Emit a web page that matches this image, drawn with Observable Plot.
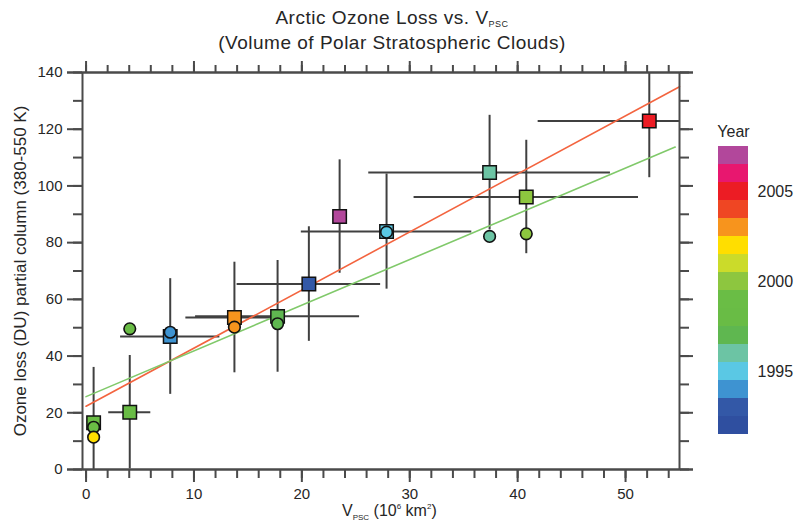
<!DOCTYPE html>
<html><head><meta charset="utf-8">
<script src="https://cdn.jsdelivr.net/npm/d3@7"></script>
<script src="https://cdn.jsdelivr.net/npm/@observablehq/plot@0.6"></script>
<style>
body{margin:0;background:#fff;font-family:"Liberation Sans",Arial,sans-serif;}
#wrap{position:relative;width:811px;height:531px;overflow:hidden;background:#fff;}
.t{position:absolute;white-space:nowrap;color:#262626;}
#main,#bar{position:absolute;}
#main{left:0;top:0;}
#bar{left:718px;top:110px;}
.sub{font-size:9px;position:relative;top:3px;}
.sup{font-size:9px;position:relative;top:-7px;}
</style></head><body>
<div id="wrap">
  <div id="main"></div>
  <div id="bar"></div>
  <div class="t" style="left:192px;top:7px;width:400px;text-align:center;font-size:19px;line-height:21px;letter-spacing:0.5px">Arctic Ozone Loss vs. V<span class="sub">PSC</span><br>(Volume of Polar Stratospheric Clouds)</div>
  <div class="t" style="left:342px;top:503px;font-size:16px;line-height:16px">V<span class="sub" style="font-size:8px;top:4px">PSC</span> (10<span class="sup" style="font-size:8px">6</span> km<span class="sup" style="font-size:8px">2</span>)</div>
</div>
<script>
// Color bar years and colours
const years = [1992,1993,1994,1995,1996,1997,1998,1999,2000,2001,2002,2003,2004,2005,2006,2007];
const yearColors = ["#2f4fa0","#3358a7","#3e93d1","#5ac8e4","#6cc4a4","#5fb750","#69bc45","#6abd45","#8dc63f","#cbdb2a","#ffde00","#f7941d","#ef4623","#ec1c24","#e8176f","#b2479b"];
const barTicks = [1995,2000,2005];

// Squares (with error bars)
const sqYear = [1999,1998,1994,2003,1997,1993,2007,1995,1996,2000,2005];
const sqX    = [0.7,4.05,7.8,13.75,17.75,20.65,23.5,27.85,37.4,40.8,52.2];
const sqY    = [16.5,20.2,46.9,53.6,54.0,65.4,89.2,83.9,104.7,96.1,122.9];
const sqXErr = [0,1.95,4.6,4.5,7.6,6.65,0,7.9,11.2,10.4,10.3];
const sqYErr = [19.5,20,20.4,19.5,19.7,20.2,20,20.3,20.2,20,20];

// Circles
const ciYear = [1999,2002,1998,1994,2003,1997,1995,1996,2000];
const ciX    = [0.7,0.7,4.05,7.8,13.75,17.75,27.85,37.4,40.8];
const ciY    = [14.9,11.4,49.6,48.4,50.2,51.4,83.7,82.2,83.1];

// Fit lines (end points)
const redFitX = [0,55];
const redFitY = [22.3,135.0];
const greenFitX = [0,54.6];
const greenFitY = [25.7,113.7];

// Axis ticks
const xMinorTicks = d3.range(0,55,2);
const xMajorTicks = [0,10,20,30,40,50];
const yMinorTicks = [0,10,20,30,40,50,60,70,80,90,100,110,120,130,140];
const yMajorTicks = [0,20,40,60,80,100,120,140];
const yLabel = "Ozone loss (DU) partial column (380-550 K)";

const squares = sqX.map((x,i)=>({year:sqYear[i], x, y:sqY[i], xe:sqXErr[i], ye:sqYErr[i]}));
const circles = ciX.map((x,i)=>({year:ciYear[i], x, y:ciY[i]}));
const redFit = redFitX.map((x,i)=>({x, y:redFitY[i]}));
const greenFit = greenFitX.map((x,i)=>({x, y:greenFitY[i]}));

const axisColor = "#4a4a4a";
const errColor = "#404040";
const colorScale = {type:"ordinal", domain: years, range: yearColors};

const main = Plot.plot({
  width: 811, height: 531,
  marginLeft: 82, marginRight: 132, marginTop: 72, marginBottom: 62,
  style: {fontFamily: "Liberation Sans, Arial, sans-serif", fontSize: "15px", color: "#262626", background: "transparent"},
  x: {domain: [-0.33, 55], label: null},
  y: {domain: [0, 140], label: null},
  color: colorScale,
  marks: [
    Plot.ruleY(squares.filter(d=>d.xe>0), {y:"y", x1:d=>d.x-d.xe, x2:d=>d.x+d.xe, stroke: errColor, strokeWidth: 2, clip: true}),
    Plot.ruleX(squares, {x:"x", y1:d=>d.y-d.ye, y2:d=>d.y+d.ye, stroke: errColor, strokeWidth: 2, clip: true}),
    Plot.line(redFit, {x:"x", y:"y", stroke:"#f3643f", strokeWidth: 1.6}),
    Plot.line(greenFit, {x:"x", y:"y", stroke:"#80c96a", strokeWidth: 1.6}),
    Plot.dot(squares, {x:"x", y:"y", fill:"year", symbol:"square", r:7.6, stroke:"#111", strokeWidth:1.5}),
    Plot.dot(circles, {x:"x", y:"y", fill:"year", r:5.8, stroke:"#111", strokeWidth:1.6}),
    // frame
    Plot.frame({stroke: axisColor, strokeWidth: 2}),
    Plot.ruleY([0], {stroke: axisColor, strokeWidth: 2, insetLeft: -15, insetRight: -14}),
    Plot.ruleY([140], {stroke: axisColor, strokeWidth: 2, insetLeft: -15, insetRight: -14}),
    // axes
    Plot.axisX({anchor:"bottom", ticks: xMinorTicks, tickSize: 9, tickFormat: ()=>"", stroke: axisColor, strokeWidth: 2, label: null}),
    Plot.axisX({anchor:"bottom", ticks: xMajorTicks, tickSize: 13, tickPadding: 6, tickFormat: d3.format("d"), stroke: axisColor, strokeWidth: 2, fontSize: 15, label: null}),
    Plot.axisX({anchor:"top", ticks: xMinorTicks, tickSize: 8, tickFormat: ()=>"", stroke: axisColor, strokeWidth: 2, label: null}),
    Plot.axisX({anchor:"top", ticks: xMajorTicks, tickSize: 12, tickFormat: ()=>"", stroke: axisColor, strokeWidth: 2, label: null}),
    Plot.axisY({anchor:"left", ticks: yMinorTicks, tickSize: 9, tickFormat: ()=>"", stroke: axisColor, strokeWidth: 2, label: null}),
    Plot.axisY({anchor:"left", ticks: yMajorTicks, tickSize: 15, tickPadding: 5, tickFormat: d3.format("d"), stroke: axisColor, strokeWidth: 2, fontSize: 15, label: null}),
    Plot.axisY({anchor:"right", ticks: yMinorTicks, tickSize: 9, tickFormat: ()=>"", stroke: axisColor, strokeWidth: 2, label: null}),
    Plot.axisY({anchor:"right", ticks: yMajorTicks, tickSize: 13, tickFormat: ()=>"", stroke: axisColor, strokeWidth: 2, label: null}),
    Plot.text([yLabel], {frameAnchor:"left", textAnchor:"middle", lineAnchor:"middle", rotate:-90, dx:-62, fontSize:17, fill:"#262626"})
  ]
});
document.getElementById("main").appendChild(main);

const bar = Plot.plot({
  width: 93, height: 335,
  marginLeft: 0, marginRight: 63, marginTop: 30, marginBottom: 5,
  style: {fontFamily: "Liberation Sans, Arial, sans-serif", fontSize: "15px", color: "#262626", background: "transparent", overflow: "visible"},
  x: {type:"band", domain:["bar"], padding:0, axis:null},
  y: {type:"band", domain: years.slice().reverse(), padding:0, label:null},
  color: colorScale,
  marks: [
    Plot.cell(years, {x: ()=>"bar", y: d=>d, fill: d=>d}),
    Plot.axisY({anchor:"right", ticks: barTicks, tickSize: 0, tickPadding: 9, tickFormat: d=>String(d), fontSize: 16, label: null}),
    Plot.text(["Year"], {frameAnchor:"top", dy:-15, fontSize:16, fill:"#262626"})
  ]
});
document.getElementById("bar").appendChild(bar);
</script>
</body></html>
